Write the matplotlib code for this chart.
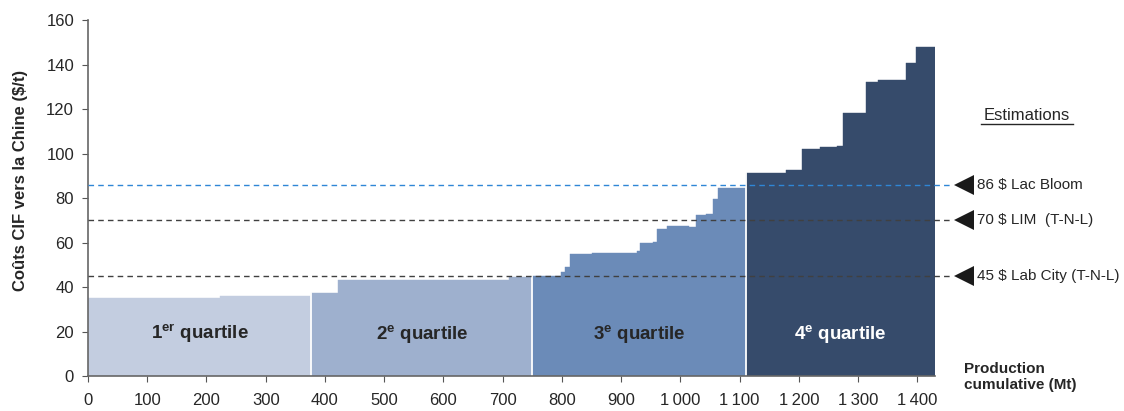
import matplotlib
matplotlib.use("Agg")
import matplotlib.pyplot as plt

plt.rcParams['font.family'] = ['Liberation Sans', 'DejaVu Sans']
plt.rcParams['mathtext.fontset'] = 'custom'
plt.rcParams['mathtext.rm'] = 'Liberation Sans'
plt.rcParams['mathtext.bf'] = 'Liberation Sans:bold'

# cost curve, one set of steps per quartile (cumulative Mt edges, $/t heights)
q1_edges = [0, 223, 377]
q1_cost = [35.2, 36.1]
q2_edges = [377, 422, 711, 750]
q2_cost = [37.3, 43.1, 44.5]
q3_edges = [750, 799, 806, 814, 851, 927, 932, 954, 961, 978, 1014, 1027, 1043, 1055, 1064, 1111]
q3_cost = [45.2, 46.6, 49.0, 54.8, 55.4, 56.2, 59.8, 60.2, 66.0, 67.4, 67.0, 72.4, 72.8, 79.6, 84.5]
q4_edges = [1111, 1179, 1206, 1236, 1264, 1275, 1313, 1334, 1380, 1397, 1430]
q4_cost = [91.1, 92.6, 102.0, 102.9, 103.4, 118.3, 132.1, 133.0, 140.7, 148.0]

quartile_labels = [('1', 'er'), ('2', 'e'), ('3', 'e'), ('4', 'e')]
quartile_colors = ['#c3cde0', '#9eb0ce', '#6b8bb8', '#364b6b']

estimates = [86, 70, 45]
estimate_labels = ['86 $ Lac Bloom', '70 $ LIM  (T-N-L)', '45 $ Lab City (T-N-L)']
estimate_colors = ['#2f86d6', '#404040', '#404040']

xticks = list(range(0, 1500, 100))
xticklabels = [f"{v:,}".replace(',', '\u2009') for v in xticks]
yticks = list(range(0, 180, 20))

fig = plt.figure(figsize=(11.24, 4.11), dpi=100)
ax = fig.add_axes([0.0783, 0.085, 0.7537, 0.866])

quartiles = [(q1_edges, q1_cost), (q2_edges, q2_cost), (q3_edges, q3_cost), (q4_edges, q4_cost)]
for (edges, cost), col in zip(quartiles, quartile_colors):
    ax.stairs(cost, edges, fill=True, facecolor=col, edgecolor=col, lw=0.3, zorder=2)

# white separators between quartiles
for (e_prev, c_prev), (e_next, c_next) in zip(quartiles[:-1], quartiles[1:]):
    ax.plot([e_next[0], e_next[0]], [0, max(c_prev[-1], c_next[0])],
            color='white', lw=1.3, zorder=3)

# quartile names
for (edges, cost), (num, sup), col in zip(quartiles, quartile_labels, quartile_colors):
    xc = (edges[0] + edges[-1]) / 2
    tc = 'white' if col == quartile_colors[-1] else '#262626'
    ax.text(xc, 19, r'$\mathbf{%s^{%s}}$ quartile' % (num, sup), ha='center', va='center',
            fontsize=13.5, fontweight='bold', color=tc, zorder=4)

# reference price lines with markers on the right
for val, lab, col in zip(estimates, estimate_labels, estimate_colors):
    ax.plot([0, 1459], [val, val], ls=(0, (4, 3)), color=col, lw=1.0, zorder=5, clip_on=False)
    ax.plot([1478], [val], marker='<', ms=14, color='#1a1a1a', mew=0, clip_on=False, zorder=6)
    ax.text(1500, val, lab, ha='left', va='center', fontsize=11, color='#262626')

ax.text(1585, 117, 'Estimations', ha='center', va='center', fontsize=12, color='#262626')
ax.plot([1508, 1662], [113.4, 113.4], color='#262626', lw=1.0, clip_on=False)

ax.set_xlim(0, 1430)
ax.set_ylim(0, 160)
ax.set_xticks(xticks)
ax.set_xticklabels(xticklabels)
ax.set_yticks(yticks)
ax.tick_params(labelsize=12, colors='#555555', labelcolor='#262626', length=4, direction='out')
ax.tick_params(axis='x', pad=8)
ax.tick_params(axis='y', pad=6)
for s in ['top', 'right']:
    ax.spines[s].set_visible(False)
for s in ['left', 'bottom']:
    ax.spines[s].set_color('#666666')
    ax.spines[s].set_linewidth(1.2)
ax.spines['bottom'].set_zorder(6)

fig.text(0.018, 0.562, 'Coûts CIF vers la Chine ($/t)', rotation=90, ha='center', va='center',
         fontsize=12, fontweight='bold', color='#262626')
fig.text(0.858, 0.083, 'Production\ncumulative (Mt)', ha='left', va='center',
         fontsize=11, fontweight='bold', color='#262626', linespacing=1.2)

fig.savefig('out.png', dpi=100)
